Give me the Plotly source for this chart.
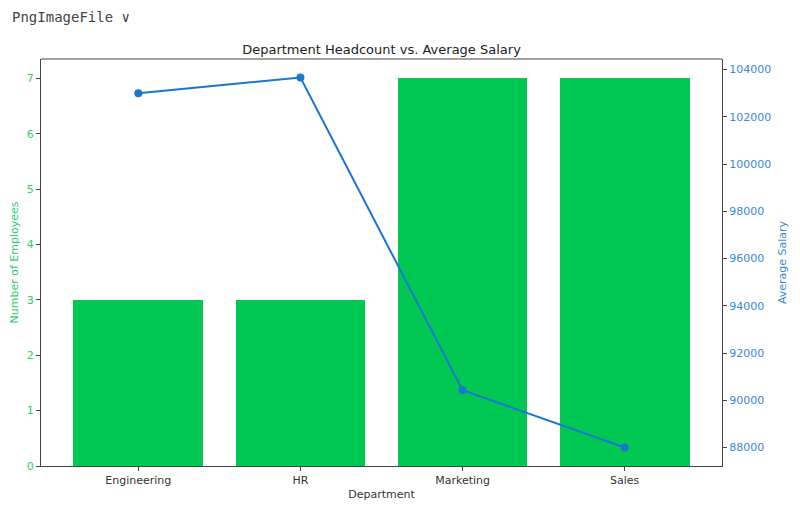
import plotly.graph_objects as go

# Data
departments = ["Engineering", "HR", "Marketing", "Sales"]
headcount = [3, 3, 7, 7]
avg_salary = [103000, 103667, 90429, 88000]

bar_color = "#00c853"
line_color = "#1976d2"
font_family = "DejaVu Sans"

fig = go.Figure()

fig.add_trace(go.Bar(
    x=departments, y=headcount, width=0.8,
    marker=dict(color=bar_color, line=dict(width=0)),
    name="Number of Employees", yaxis="y",
))

fig.add_trace(go.Scatter(
    x=departments, y=avg_salary, mode="lines+markers",
    line=dict(color=line_color, width=2),
    marker=dict(color=line_color, size=8),
    name="Average Salary", yaxis="y2",
))

axis_line = dict(showline=True, linecolor="#444444", linewidth=1, mirror=False,
                 ticks="outside", ticklen=4, tickcolor="#444444",
                 showgrid=False, zeroline=False, automargin=False)

# the page body adds an 8px offset, so the figure is 8px smaller each way
fig.update_layout(
    width=792, height=499,
    margin=dict(l=33, r=78, t=51, b=41),
    paper_bgcolor="white", plot_bgcolor="white",
    font=dict(family=font_family, size=11, color="#333333"),
    showlegend=False,
    bargap=0,
    title=dict(text="Department Headcount vs. Average Salary",
               x=0.5, xanchor="center", xref="paper",
               y=1, yref="paper", yanchor="bottom", pad=dict(b=5),
               font=dict(size=13, color="#222222")),
    xaxis=dict(**axis_line, range=[-0.6, 3.6],
               title=dict(text="Department", standoff=4, font=dict(size=11)),
               tickfont=dict(size=11, color="#333333")),
    yaxis=dict(**axis_line, range=[0, 7.35], dtick=1,
               tickfont=dict(size=11, color="#2ecc71"),
               title=dict(text="Number of Employees", standoff=6,
                          font=dict(size=11, color="#2ecc71"))),
    yaxis2=dict(**axis_line, overlaying="y", side="right",
                range=[87217, 104450], dtick=2000, tickformat="d",
                tickfont=dict(size=11, color="#3a87d6"),
                title=dict(text="Average Salary", standoff=8,
                           font=dict(size=11, color="#3a87d6"))),
    shapes=[dict(type="line", xref="paper", yref="paper", x0=0, x1=1, y0=1, y1=1,
                 line=dict(color="#444444", width=1))],
    annotations=[dict(text="PngImageFile \u2228", xref="paper", yref="paper",
                      x=-31 / 681, y=1 + 42 / 407, xanchor="left", yanchor="middle",
                      showarrow=False,
                      font=dict(family="DejaVu Sans Mono", size=14, color="#444444"))],
)

fig.write_html("out.html")
